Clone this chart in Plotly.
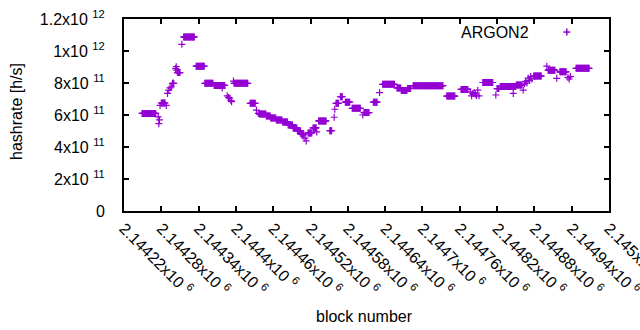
import numpy as np
import plotly.graph_objects as go

# ---- data (block number, hashrate in h/s) ----
# runs of consecutive blocks sharing (about) the same hashrate
run_start = [2144249, 2144280, 2144298, 2144306, 2144316, 2144336, 2144350, 2144365,
             2144397, 2144423, 2144438, 2144449, 2144456, 2144465, 2144475, 2144484,
             2144492, 2144499, 2144505, 2144516, 2144524, 2144533, 2144551, 2144561,
             2144568, 2144576, 2144587, 2144606, 2144621, 2144636, 2144659, 2144666,
             2144676, 2144685, 2144739, 2144762, 2144797, 2144820, 2144825, 2144851,
             2144879, 2144902, 2144921, 2144947]
run_end = [2144271, 2144286, 2144300, 2144310, 2144333, 2144349, 2144363, 2144382,
           2144419, 2144431, 2144448, 2144455, 2144464, 2144474, 2144483, 2144491,
           2144498, 2144504, 2144509, 2144522, 2144529, 2144545, 2144554, 2144565,
           2144571, 2144583, 2144600, 2144614, 2144627, 2144655, 2144665, 2144675,
           2144681, 2144733, 2144752, 2144773, 2144813, 2144823, 2144850, 2144860,
           2144891, 2144913, 2144931, 2144968]
run_value = [6.10e11, 6.75e11, 7.98e11, 8.65e11, 1.088e12, 9.05e11, 7.98e11, 7.85e11,
             7.98e11, 6.73e11, 6.06e11, 5.94e11, 5.81e11, 5.69e11, 5.56e11, 5.38e11,
             5.19e11, 5.00e11, 4.81e11, 4.88e11, 5.19e11, 5.63e11, 5.02e11, 6.73e11,
             7.14e11, 6.80e11, 6.42e11, 6.15e11, 6.80e11, 7.92e11, 7.69e11, 7.53e11,
             7.66e11, 7.83e11, 7.18e11, 7.60e11, 8.03e11, 7.65e11, 7.78e11, 7.87e11,
             8.43e11, 8.80e11, 8.70e11, 8.92e11]

# isolated blocks
pt_block = [2144275, 2144276, 2144277, 2144278, 2144288, 2144290, 2144292, 2144294,
            2144296, 2144303, 2144304, 2144305, 2144313, 2144378, 2144386, 2144388,
            2144390, 2144392, 2144393, 2144396, 2144433, 2144436, 2144508, 2144511,
            2144513, 2144530, 2144558, 2144559, 2144604, 2144631, 2144777, 2144779,
            2144781, 2144783, 2144785, 2144787, 2144789, 2144791, 2144818, 2144846,
            2144862, 2144864, 2144866, 2144868, 2144870, 2144872, 2144874, 2144876,
            2144900, 2144916, 2144934, 2144936, 2144938]
pt_value = [5.88e11, 5.46e11, 5.70e11, 6.60e11, 6.60e11, 7.35e11, 7.55e11, 7.70e11,
            7.75e11, 8.90e11, 9.02e11, 8.80e11, 1.042e12, 7.69e11, 7.20e11, 7.10e11,
            7.05e11, 6.90e11, 6.83e11, 8.12e11, 6.31e11, 6.10e11, 4.69e11, 4.56e11,
            4.38e11, 4.94e11, 5.86e11, 6.36e11, 6.00e11, 7.40e11, 7.45e11, 7.20e11,
            7.35e11, 7.40e11, 7.30e11, 7.20e11, 7.55e11, 7.20e11, 7.25e11, 7.35e11,
            7.56e11, 7.95e11, 8.10e11, 8.00e11, 8.30e11, 8.15e11, 8.40e11, 8.25e11,
            9.05e11, 8.29e11, 8.35e11, 8.25e11, 8.40e11]

x_tick_vals = [2144220, 2144280, 2144340, 2144400, 2144460, 2144520, 2144580,
               2144640, 2144700, 2144760, 2144820, 2144880, 2144940, 2145000]
x_tick_mant = ["2.14422", "2.14428", "2.14434", "2.1444", "2.14446", "2.14452", "2.14458",
               "2.14464", "2.1447", "2.14476", "2.14482", "2.14488", "2.14494", "2.145"]
y_tick_vals = [0, 2e11, 4e11, 6e11, 8e11, 1e12, 1.2e12]
y_tick_labels = ["0", "2x10 <sup>11</sup>", "4x10 <sup>11</sup>", "6x10 <sup>11</sup>",
                 "8x10 <sup>11</sup>", "1x10 <sup>12</sup>", "1.2x10 <sup>12</sup>"]

series_name = "ARGON2"
color = "#9400D3"

# expand runs
bx, by = [], []
for s, e, v in zip(run_start, run_end, run_value):
    for b in range(s, e + 1):
        bx.append(b)
        by.append(v)
bx += pt_block
by += pt_value
order = np.argsort(bx)
bx = np.array(bx)[order]
by = np.array(by)[order]

FONT = "Liberation Sans, Arial, sans-serif"
FS = 16

fig = go.Figure()
fig.add_trace(go.Scatter(
    x=bx, y=by, mode="markers", name=series_name, showlegend=False,
    marker=dict(symbol="cross-thin", size=5, color=color,
                line=dict(color=color, width=1.2)),
))

axis_common = dict(
    showline=True, linecolor="#000000", linewidth=2, mirror="ticks",
    ticks="inside", ticklen=5, tickcolor="#000000", tickwidth=2,
    showgrid=False, zeroline=False, automargin=False,
    tickfont=dict(family=FONT, size=FS, color="black"),
)

# legend sample "+" (text left, symbol right, gnuplot style), in paper units
lx, ly, ldx, ldy = 0.913, 0.932, 0.0072, 0.0182
legend_shapes = [
    dict(type="line", xref="paper", yref="paper", x0=lx - ldx, x1=lx + ldx, y0=ly, y1=ly,
         line=dict(color=color, width=1.5), layer="above"),
    dict(type="line", xref="paper", yref="paper", x0=lx, x1=lx, y0=ly - ldy, y1=ly + ldy,
         line=dict(color=color, width=1.5), layer="above"),
]

fig.update_layout(
    template="none",
    width=640, height=330,
    margin=dict(l=124, r=31, t=19, b=119, pad=0),
    paper_bgcolor="white", plot_bgcolor="white",
    font=dict(family=FONT, size=FS, color="black"),
    xaxis=dict(range=[2144220, 2145000], tickmode="array", tickvals=x_tick_vals,
               ticktext=[m + "x10 <sup>6</sup>" for m in x_tick_mant],
               tickangle=45, ticklabeloverflow="allow", **axis_common),
    yaxis=dict(range=[0, 1.2e12], tickmode="array", tickvals=y_tick_vals,
               ticktext=y_tick_labels, ticklabelstandoff=14, **axis_common),
    shapes=legend_shapes,
    annotations=[
        dict(text=series_name, xref="paper", yref="paper", x=0.839, y=0.932,
             xanchor="right", yanchor="middle", showarrow=False,
             font=dict(family=FONT, size=FS, color="black")),
        dict(text="block number", xref="paper", yref="paper", x=0.495, y=-0.547,
             xanchor="center", yanchor="middle", showarrow=False,
             font=dict(family=FONT, size=FS, color="black")),
        dict(text="hashrate [h/s]", xref="paper", yref="paper", x=-0.2206, y=0.516,
             xanchor="center", yanchor="middle", textangle=-90, showarrow=False,
             font=dict(family=FONT, size=FS, color="black")),
    ],
)

fig.write_html("out.html", config={"displayModeBar": False},
               post_script="document.body.style.margin='0';document.body.style.overflow='hidden';")
